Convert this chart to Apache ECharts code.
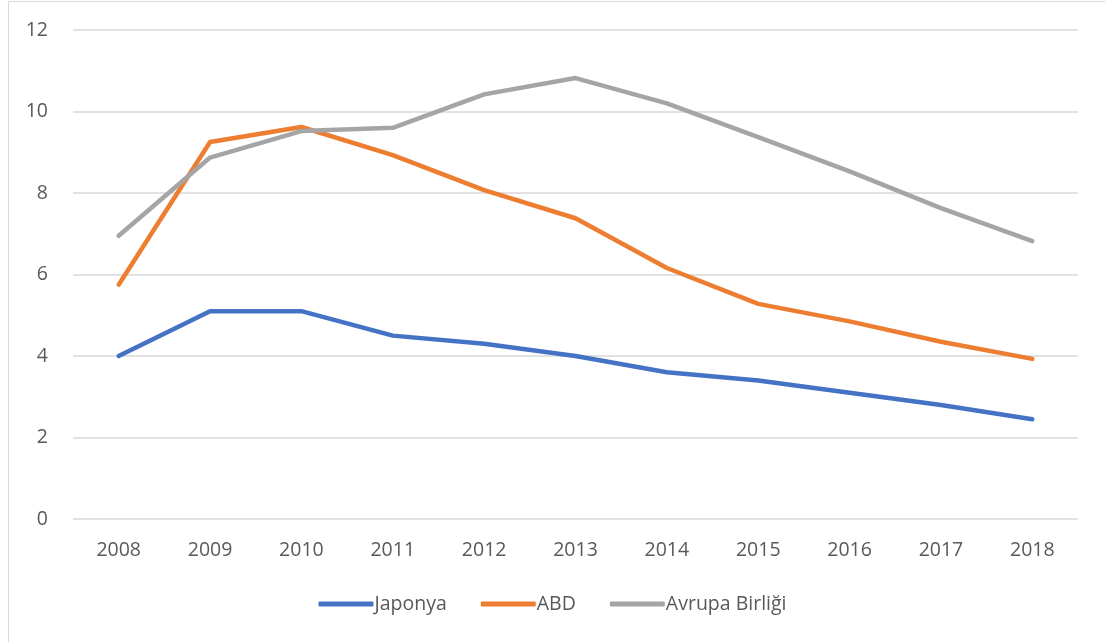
<!DOCTYPE html>
<html>
<head>
<meta charset="utf-8">
<script src="https://cdn.jsdelivr.net/npm/echarts@6/dist/echarts.min.js"></script>
<style>
  html, body { margin: 0; padding: 0; background: #fff; }
  #frame { position: absolute; left: 8px; top: 1px; width: 1110px; height: 660px; border: 1.5px solid #d9d9d9; box-sizing: border-box; }
  #chart { position: absolute; left: 0; top: 0; width: 1105px; height: 642px; }
</style>
</head>
<body>
<div id="frame"></div>
<div id="chart"></div>
<script>
// yıllar ve seriler
const years = ['2008', '2009', '2010', '2011', '2012', '2013', '2014', '2015', '2016', '2017', '2018']
const japonya = [4.0, 5.1, 5.1, 4.5, 4.3, 4.0, 3.6, 3.4, 3.1, 2.8, 2.45]
const abd = [5.75, 9.25, 9.62, 8.93, 8.07, 7.38, 6.16, 5.28, 4.85, 4.35, 3.93]
const avrupa = [6.95, 8.87, 9.52, 9.6, 10.42, 10.82, 10.2, 9.37, 8.53, 7.63, 6.82]

const colors = ['#4472C4', '#ED7D31', '#A5A5A5']
const font = '"Open Sans", sans-serif'

const chart = echarts.init(document.getElementById('chart'))
const line = (name, data, i) => ({
  name, type: 'line', data, symbol: 'none', smooth: false,
  lineStyle: { width: 4.5, color: colors[i], cap: 'round', join: 'round' },
  itemStyle: { color: colors[i] }
})
chart.setOption({
  animation: false,
  grid: { left: 73, right: 27, top: 30, bottom: 123 },
  legend: {
    bottom: 23, left: 'center', itemWidth: 55, itemHeight: 5, itemGap: 34,
    icon: 'roundRect',
    textStyle: { color: '#595959', fontSize: 19.5, fontFamily: font, padding: [0, 0, 0, -4] },
    data: ['Japonya', 'ABD', 'Avrupa Birliği']
  },
  xAxis: {
    type: 'category', data: years, boundaryGap: true,
    axisLine: { show: false }, axisTick: { show: false },
    axisLabel: { color: '#595959', fontSize: 19.5, fontFamily: font, margin: 21 }
  },
  yAxis: {
    type: 'value', min: 0, max: 12, interval: 2,
    axisLine: { show: false }, axisTick: { show: false },
    axisLabel: { color: '#595959', fontSize: 19.5, fontFamily: font, margin: 25 },
    splitLine: { lineStyle: { color: '#d9d9d9', width: 1.5 } }
  },
  series: [
    line('Japonya', japonya, 0),
    line('ABD', abd, 1),
    line('Avrupa Birliği', avrupa, 2)
  ]
})
</script>
</body>
</html>
